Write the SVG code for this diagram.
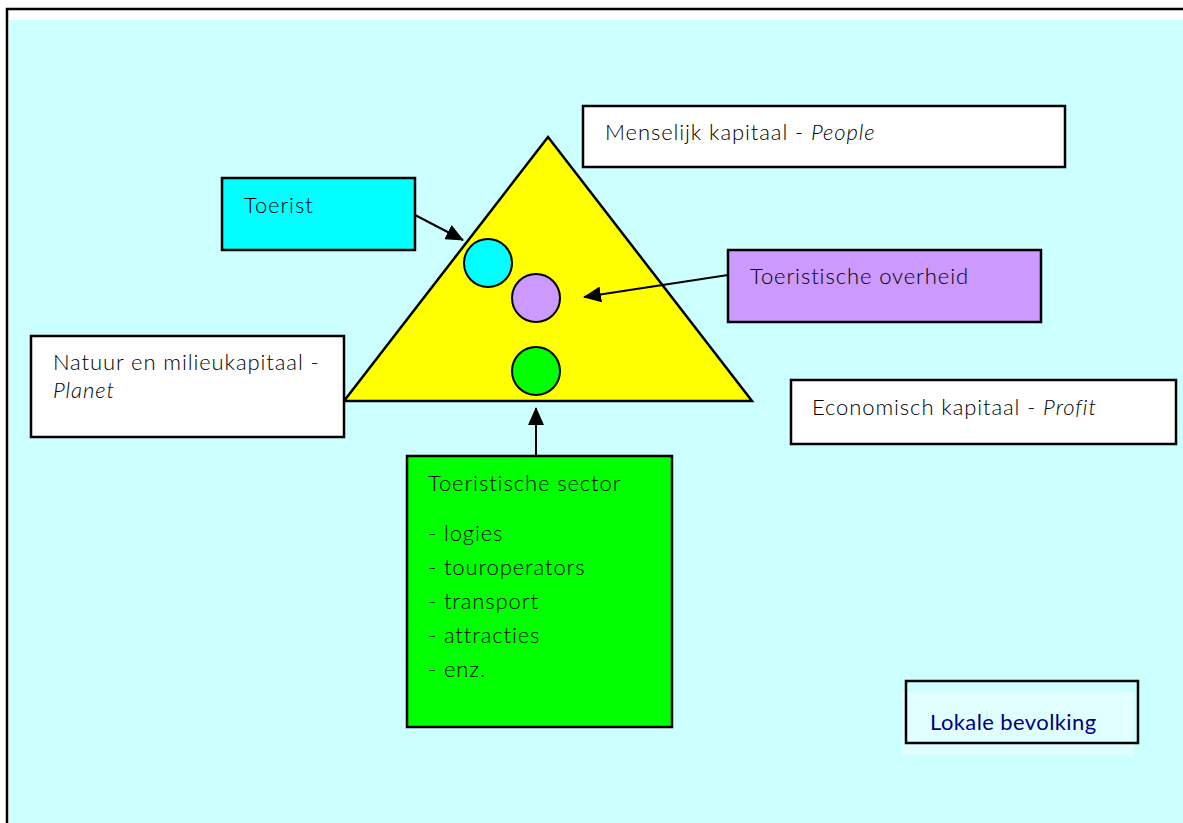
<svg xmlns="http://www.w3.org/2000/svg" width="1183" height="823" viewBox="0 0 1183 823">
<style>
.box{stroke:#000;stroke-width:2.5}
.t{font-family:Lato,"Liberation Sans",sans-serif;font-weight:300;font-size:22px;letter-spacing:0.9px;fill:#000}
.i{font-style:italic}
.c{stroke:#000;stroke-width:2}
</style>
<defs>
<marker id="ahb" markerWidth="18" markerHeight="16" refX="17" refY="8" orient="auto" markerUnits="userSpaceOnUse" viewBox="0 0 18 16">
<path d="M0,0 L18,8 L0,16 z" fill="#000"/>
</marker>
</defs>
<rect x="0" y="0" width="1183" height="823" fill="#fff"/>
<rect x="9" y="20" width="1174" height="803" fill="#CCFFFF"/>
<path d="M7,823 V9 H1183" fill="none" stroke="#000" stroke-width="2.5"/>

<g id="triangle">
<polygon points="548,137 344,401 752,401" fill="#FFFF00" stroke="#000" stroke-width="2.5"/>
</g>
<g id="circle-toerist"><circle cx="488" cy="263" r="24" fill="#00FFFF" class="c"/></g>
<g id="circle-overheid"><circle cx="536" cy="298" r="24" fill="#CC99FF" class="c"/></g>
<g id="circle-sector"><circle cx="536" cy="371" r="24" fill="#00FF00" class="c"/></g>

<g id="menselijk">
<rect x="583" y="106" width="482" height="61" fill="#fff" class="box"/>
<text x="605" y="140" class="t">Menselijk kapitaal - <tspan class="i">People</tspan></text>
</g>
<g id="toerist">
<rect x="222" y="178" width="193" height="72" fill="#00FFFF" class="box"/>
<text x="244" y="213" class="t">Toerist</text>
</g>
<g id="overheid">
<rect x="728" y="250" width="313" height="72" fill="#CC99FF" class="box"/>
<text x="750" y="284" class="t">Toeristische overheid</text>
</g>
<g id="natuur">
<rect x="31" y="336" width="313" height="101" fill="#fff" class="box"/>
<text x="53" y="370" class="t">Natuur en milieukapitaal -</text>
<text x="53" y="398" class="t i">Planet</text>
</g>
<g id="economisch">
<rect x="791" y="380" width="385" height="64" fill="#fff" class="box"/>
<text x="812" y="415" class="t">Economisch kapitaal - <tspan class="i">Profit</tspan></text>
</g>
<g id="sector">
<rect x="407" y="456" width="265" height="271" fill="#00FF00" class="box"/>
<text x="428" y="491" class="t">Toeristische sector</text>
<text x="428" y="541" class="t">- logies</text>
<text x="428" y="575" class="t">- touroperators</text>
<text x="428" y="609" class="t">- transport</text>
<text x="428" y="643" class="t">- attracties</text>
<text x="428" y="677" class="t">- enz.</text>
</g>
<g id="lokale">
<rect x="902" y="692" width="232" height="63" fill="#E0FFFF"/>
<rect x="906" y="681" width="232" height="62" fill="none" class="box"/>
<text x="930" y="730" class="t" style="font-weight:400;fill:#000080;letter-spacing:0.4px">Lokale bevolking</text>
</g>

<g id="connectors" fill="none" stroke="#000" stroke-width="2">
<line x1="415" y1="215" x2="463" y2="240" marker-end="url(#ahb)"/>
<line x1="728" y1="275" x2="584" y2="297" marker-end="url(#ahb)"/>
<line x1="536" y1="455" x2="536" y2="408" marker-end="url(#ahb)"/>
</g>
</svg>
